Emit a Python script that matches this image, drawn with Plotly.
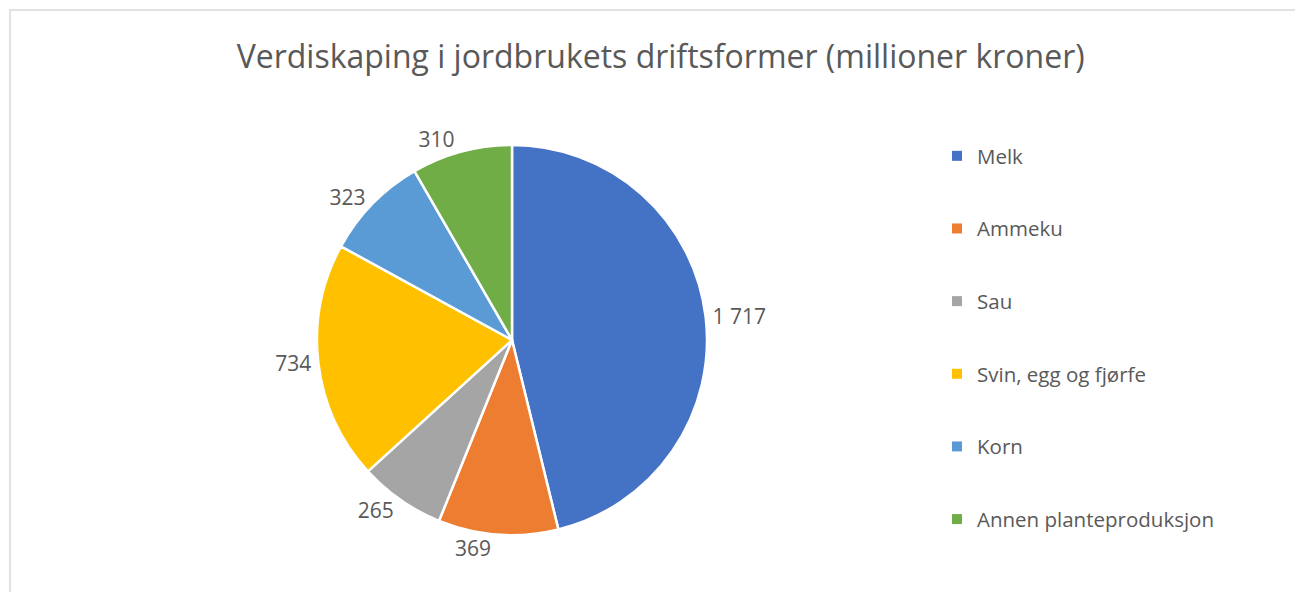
import plotly.graph_objects as go

# Data
categories = ['Melk', 'Ammeku', 'Sau', 'Svin, egg og fjørfe', 'Korn', 'Annen planteproduksjon']
values = [1717, 369, 265, 734, 323, 310]
colors = ['#4472C4', '#ED7D31', '#A5A5A5', '#FFC000', '#5B9BD5', '#70AD47']

# page body has an 8px margin, so the figure is a bit smaller than the window
W, H = 1295, 584
font_family = 'Open Sans, Noto Sans, sans-serif'
grey = '#595959'

fig = go.Figure()

fig.add_trace(go.Pie(
    labels=categories, values=values, sort=False, direction='clockwise', rotation=0,
    marker=dict(colors=colors, line=dict(color='white', width=2.5)),
    texttemplate='%{value:,}', textposition='outside',
    textfont=dict(size=21, color=grey, family=font_family),
    domain=dict(x=[309 / W, 699 / W], y=[1 - 527 / H, 1 - 137 / H]),
    showlegend=False, hoverinfo='label+value'
))

# Legend entries (one per category so the gap between them can be set)
for cat, col in zip(categories, colors):
    fig.add_trace(go.Scatter(
        x=[None], y=[None], mode='markers', name=cat, legendgroup=cat,
        marker=dict(symbol='square', size=10, color=col)
    ))

fig.update_layout(
    width=W, height=H,
    margin=dict(l=0, r=0, t=0, b=0),
    paper_bgcolor='white', plot_bgcolor='white',
    separators=', ',
    title=dict(text='Verdiskaping i jordbrukets driftsformer (millioner kroner)',
               x=0.504, xanchor='center', y=1 - 49 / H, yanchor='middle',
               font=dict(size=32, color=grey, family=font_family)),
    xaxis=dict(visible=False), yaxis=dict(visible=False),
    legend=dict(x=929 / W, xanchor='left', y=1 - 128 / H, yanchor='top',
                font=dict(size=20.5, color=grey, family=font_family),
                tracegroupgap=43, itemwidth=30, bgcolor='rgba(0,0,0,0)'),
    shapes=[dict(type='rect', xref='paper', yref='paper',
                 x0=2 / W, x1=1.02, y0=-0.02, y1=1 - 2 / H,
                 line=dict(color='#D9D9D9', width=1.5))]
)

fig.write_html("out.html")
